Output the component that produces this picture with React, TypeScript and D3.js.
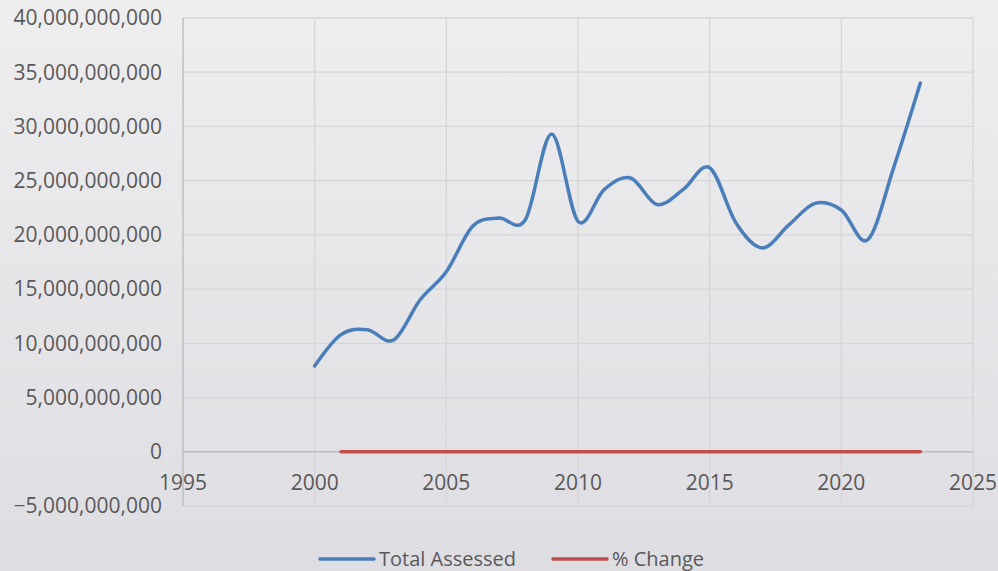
import React, { useEffect, useRef } from 'react';
import * as d3 from 'd3';

// Years on the x axis
const years = [2000, 2001, 2002, 2003, 2004, 2005, 2006, 2007, 2008, 2009, 2010, 2011,
  2012, 2013, 2014, 2015, 2016, 2017, 2018, 2019, 2020, 2021, 2022, 2023];

// Total Assessed values
const totalAssessed = [7.9e9, 10.8e9, 11.25e9, 10.3e9, 14.0e9, 16.6e9, 20.8e9, 21.55e9, 21.4e9,
  29.3e9, 21.25e9, 24.2e9, 25.25e9, 22.8e9, 24.2e9, 26.2e9, 21.1e9, 18.8e9, 20.9e9, 22.9e9,
  22.3e9, 19.55e9, 26.3e9, 34.0e9];

// % Change starts in 2001 - tiny numbers, flat at this scale
const changeYears = years.slice(1);
const pctChange = [0.37, 0.04, -0.08, 0.36, 0.19, 0.25, 0.04, -0.01, 0.37, -0.27, 0.14,
  0.04, -0.1, 0.06, 0.08, -0.19, -0.11, 0.11, 0.1, -0.03, -0.12, 0.35, 0.29];

const yTicks = [-5e9, 0, 5e9, 10e9, 15e9, 20e9, 25e9, 30e9, 35e9, 40e9];
const xTicks = [1995, 2000, 2005, 2010, 2015, 2020, 2025];

const legendItems = [
  { label: 'Total Assessed', color: '#4a7ebb' },
  { label: '% Change', color: '#c0504d' },
];

const WIDTH = 998;
const HEIGHT = 571;
const FONT = '"Open Sans", sans-serif';

const App: React.FC = () => {
  const svgRef = useRef<SVGSVGElement>(null);

  useEffect(() => {
    if (!svgRef.current) return;
    document.body.style.margin = '0';

    const svg = d3.select(svgRef.current);
    svg.selectAll('*').remove();

    // plot area
    const margin = { top: 18, right: 25, bottom: 65, left: 183 };
    const innerWidth = WIDTH - margin.left - margin.right;
    const innerHeight = HEIGHT - margin.top - margin.bottom;

    // background gradient
    const defs = svg.append('defs');
    const grad = defs.append('linearGradient')
      .attr('id', 'bg')
      .attr('x1', 0).attr('y1', 0).attr('x2', 0).attr('y2', 1);
    grad.append('stop').attr('offset', '0%').attr('stop-color', '#eeeeef');
    grad.append('stop').attr('offset', '100%').attr('stop-color', '#dedde2');

    svg.append('rect')
      .attr('width', WIDTH)
      .attr('height', HEIGHT)
      .attr('fill', 'url(#bg)');

    const g = svg.append('g')
      .attr('transform', `translate(${margin.left},${margin.top})`);

    const xScale = d3.scaleLinear().domain([1995, 2025]).range([0, innerWidth]);
    const yScale = d3.scaleLinear().domain([-5e9, 40e9]).range([innerHeight, 0]);

    // gridlines
    g.append('g')
      .selectAll('line')
      .data(yTicks)
      .enter()
      .append('line')
      .attr('x1', 0)
      .attr('x2', innerWidth)
      .attr('y1', d => yScale(d))
      .attr('y2', d => yScale(d))
      .attr('stroke', '#d6d6d8')
      .attr('stroke-width', 1.3);

    g.append('g')
      .selectAll('line')
      .data(xTicks)
      .enter()
      .append('line')
      .attr('x1', d => xScale(d))
      .attr('x2', d => xScale(d))
      .attr('y1', 0)
      .attr('y2', innerHeight)
      .attr('stroke', d => d === 1995 ? '#bfbfbf' : '#d6d6d8')
      .attr('stroke-width', d => d === 1995 ? 1.5 : 1.3);

    // horizontal axis line at zero
    g.append('line')
      .attr('x1', 0)
      .attr('x2', innerWidth)
      .attr('y1', yScale(0))
      .attr('y2', yScale(0))
      .attr('stroke', '#bfbfbf')
      .attr('stroke-width', 1.5);

    // y axis labels
    const fmt = d3.format(',');
    g.append('g')
      .selectAll('text')
      .data(yTicks)
      .enter()
      .append('text')
      .attr('x', -21)
      .attr('y', d => yScale(d))
      .attr('dy', '0.35em')
      .attr('text-anchor', 'end')
      .style('font-family', FONT)
      .style('font-size', '21px')
      .attr('fill', '#595959')
      .text(d => fmt(d));

    // x axis labels
    g.append('g')
      .selectAll('text')
      .data(xTicks)
      .enter()
      .append('text')
      .attr('x', d => xScale(d))
      .attr('y', yScale(0) + 38)
      .attr('text-anchor', 'middle')
      .style('font-family', FONT)
      .style('font-size', '21px')
      .attr('fill', '#595959')
      .text(d => String(d));

    // series
    const lineGen = d3.line<[number, number]>()
      .x(d => xScale(d[0]))
      .y(d => yScale(d[1]))
      .curve(d3.curveCardinal.tension(0));

    g.append('path')
      .datum(changeYears.map((y, i) => [y, pctChange[i]] as [number, number]))
      .attr('d', lineGen)
      .attr('fill', 'none')
      .attr('stroke', legendItems[1].color)
      .attr('stroke-width', 3.5)
      .attr('stroke-linecap', 'round');

    g.append('path')
      .datum(years.map((y, i) => [y, totalAssessed[i]] as [number, number]))
      .attr('d', lineGen)
      .attr('fill', 'none')
      .attr('stroke', legendItems[0].color)
      .attr('stroke-width', 3.5)
      .attr('stroke-linecap', 'round')
      .attr('stroke-linejoin', 'round');

    // legend
    const legendX = [320, 553];
    const legend = svg.append('g');
    legendItems.forEach((item, i) => {
      legend.append('line')
        .attr('x1', legendX[i])
        .attr('x2', legendX[i] + 54)
        .attr('y1', 559)
        .attr('y2', 559)
        .attr('stroke', item.color)
        .attr('stroke-width', 3.5)
        .attr('stroke-linecap', 'round');
      legend.append('text')
        .attr('x', legendX[i] + 59)
        .attr('y', 566)
        .style('font-family', FONT)
        .style('font-size', '20px')
        .attr('fill', '#595959')
        .text(item.label);
    });
  }, []);

  return (
    <div>
      <svg ref={svgRef} width={WIDTH} height={HEIGHT} style={{ display: 'block' }}></svg>
    </div>
  );
};

export default App;
